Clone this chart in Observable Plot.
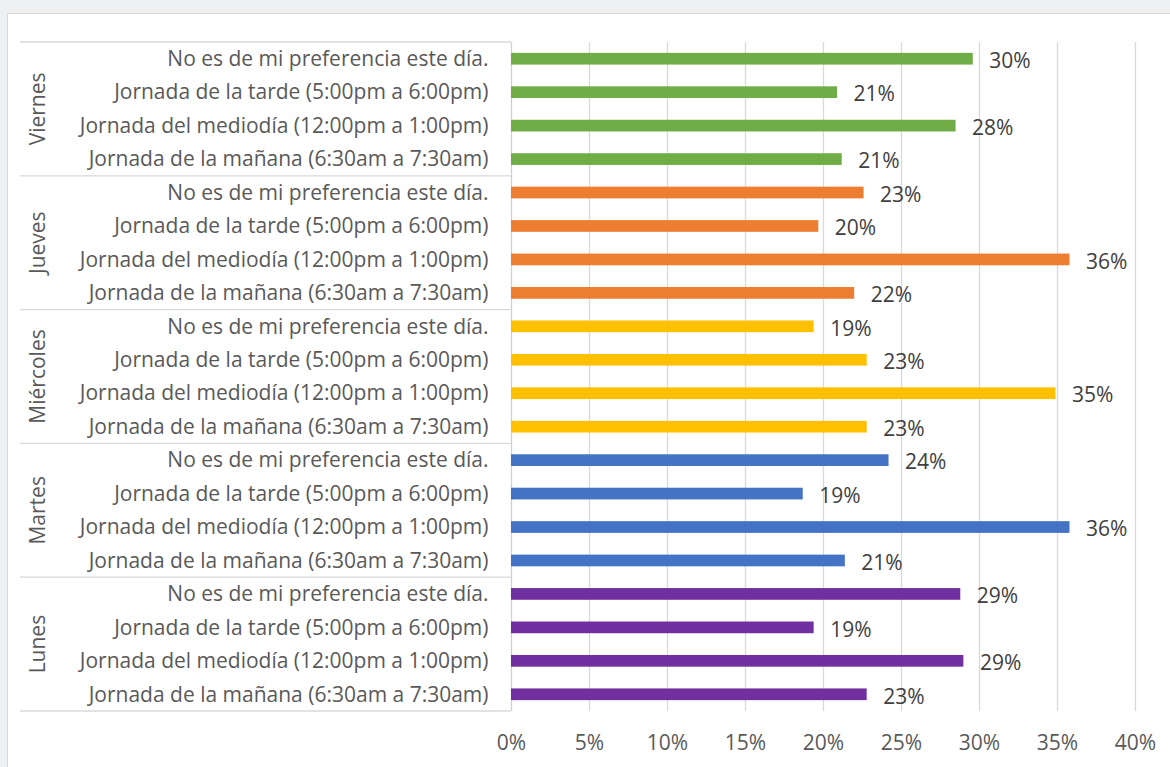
<!DOCTYPE html>
<html>
<head>
<meta charset="utf-8">
<script src="https://cdn.jsdelivr.net/npm/d3@7"></script>
<script src="https://cdn.jsdelivr.net/npm/@observablehq/plot@0.6"></script>
<style>
  html, body { margin: 0; padding: 0; width: 1170px; height: 767px; overflow: hidden; background: #eef0f2; }
  #frame { position: absolute; left: 7px; top: 13px; width: 1180px; height: 770px; background: #fff; border: 1px solid #d9d9d9; }
  #chart { position: absolute; left: 0; top: 0; }
</style>
</head>
<body>
<div id="frame"></div>
<div id="chart"></div>
<script>
// Days, top to bottom as drawn
const days = ["Viernes", "Jueves", "Miércoles", "Martes", "Lunes"];
const dayColors = ["#70ad47", "#ed7d31", "#ffc000", "#4472c4", "#7030a0"];
// Categories within each day, top to bottom
const categories = [
  "No es de mi preferencia este día.",
  "Jornada de la tarde (5:00pm a 6:00pm)",
  "Jornada del mediodía (12:00pm a 1:00pm)",
  "Jornada de la mañana (6:30am a 7:30am)"
];
// Shares per day, in the order of categories
const viernes   = [0.296, 0.209, 0.285, 0.212];
const jueves    = [0.226, 0.197, 0.358, 0.220];
const miercoles = [0.194, 0.228, 0.349, 0.228];
const martes    = [0.242, 0.187, 0.358, 0.214];
const lunes     = [0.288, 0.194, 0.290, 0.228];
const xTicks = [0, 0.05, 0.10, 0.15, 0.20, 0.25, 0.30, 0.35, 0.40];

const seriesByDay = [viernes, jueves, miercoles, martes, lunes];
const data = days.flatMap((day, i) => categories.map((cat, j) => ({
  day, cat, key: day + "|" + cat, value: seriesByDay[i][j]
})));
const yDomain = data.map(d => d.key);
const pct = d3.format(".0%");
const textColor = "#595959";
const font = "Open Sans, sans-serif";

// Custom mark: group separators and rotated day labels, placed with the y scale
function groupAxis(index, scales) {
  const y = scales.y;
  const bw = y.bandwidth();
  const step = y(yDomain[1]) - y(yDomain[0]);
  const half = (step - bw) / 2;
  const g = d3.create("svg:g");
  days.forEach((day, i) => {
    const first = day + "|" + categories[0];
    const last = day + "|" + categories[categories.length - 1];
    const top = y(first) - half;
    const bottom = y(last) + bw + half;
    if (i === 0) g.append("line").attr("x1", 20).attr("x2", 511).attr("y1", top).attr("y2", top);
    g.append("line").attr("x1", 20).attr("x2", 511).attr("y1", bottom).attr("y2", bottom);
    g.append("text")
      .attr("transform", `translate(38,${(top + bottom) / 2}) rotate(-90)`)
      .attr("text-anchor", "middle")
      .attr("dy", "0.35em")
      .attr("fill", textColor)
      .attr("font-size", 21)
      .attr("font-family", font)
      .text(day);
  });
  g.selectAll("line").attr("stroke", "#d9d9d9").attr("stroke-width", 1.3);
  return g.node();
}

const chart = Plot.plot({
  width: 1170,
  height: 767,
  marginLeft: 511,
  marginRight: 35,
  marginTop: 42,
  marginBottom: 56,
  style: { background: "transparent", fontFamily: font, fontSize: "21px", color: textColor, overflow: "visible" },
  x: { domain: [0, 0.4], ticks: xTicks, tickFormat: pct, tickSize: 0, tickPadding: 24, label: null },
  y: { domain: yDomain, paddingInner: 0.65, paddingOuter: 0.325, round: false, tickSize: 0, tickPadding: 23, tickFormat: d => d.split("|")[1], label: null },
  color: { domain: days, range: dayColors },
  marks: [
    Plot.ruleX(xTicks.slice(1), { stroke: "#d9d9d9", strokeWidth: 1.3 }),
    Plot.ruleX([0], { stroke: "#d0d0d0", strokeWidth: 1.3 }),
    Plot.barX(data, { x: "value", y: "key", fill: "day" }),
    Plot.text(data, { x: "value", y: "key", text: d => pct(d.value), textAnchor: "start", dx: 16, dy: 2, fill: "#404040", fontSize: 21 }),
    groupAxis
  ]
});
document.getElementById("chart").appendChild(chart);
</script>
</body>
</html>
